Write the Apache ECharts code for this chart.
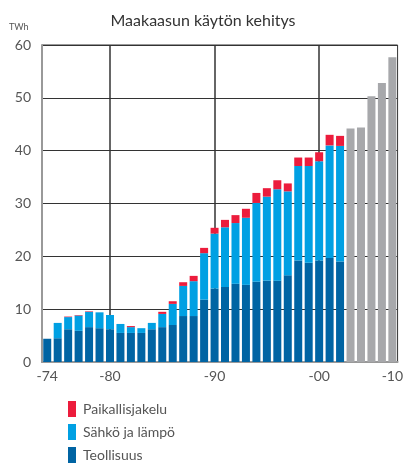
<!DOCTYPE html>
<html>
<head>
<meta charset="utf-8">
<script src="https://cdn.jsdelivr.net/npm/echarts@6/dist/echarts.min.js"></script>
<style>
  html, body { margin: 0; padding: 0; background: #fff; }
  #main { width: 406px; height: 465px; }
</style>
</head>
<body>
<div id="main"></div>
<script>
// vuodet 1974-2002 + ennustepalkit
var years = ['1974','1975','1976','1977','1978','1979','1980','1981','1982','1983',
  '1984','1985','1986','1987','1988','1989','1990','1991','1992','1993',
  '1994','1995','1996','1997','1998','1999','2000','2001','2002'];
var forecastYears = ['2003','2004','2005','2006','2010'];

var teollisuus = [4.4,4.5,6.2,5.9,6.6,6.4,6.2,5.5,5.5,5.5,6.2,6.6,7.0,8.7,8.7,11.8,13.9,14.2,14.8,14.6,15.2,15.4,15.4,16.4,19.2,18.8,19.2,19.7,19.0];
var sahkoJaLampo = [0,2.9,2.3,2.9,2.9,3.0,2.7,1.7,1.1,0.9,1.2,2.5,4.0,5.7,6.6,8.8,10.4,11.3,11.5,12.7,14.9,15.9,17.3,15.9,17.9,18.3,18.8,21.3,21.9];
var paikallisjakelu = [0,0,0.1,0.1,0.1,0,0,0,0.2,0,0,0.4,0.5,0.7,1.0,1.0,1.1,1.4,1.5,1.7,1.9,1.6,1.7,1.5,1.6,1.6,1.7,2.0,1.9];
var ennuste = [44.2,44.4,50.3,52.8,57.7];

var tickLabels = {'1974':'-74','1980':'-80','1990':'-90','2000':'-00','2010':'-10'};

var categories = years.concat(forecastYears);
var blanks = forecastYears.map(function () { return null; });
var before = years.map(function () { return null; });

var chart = echarts.init(document.getElementById('main'));

var font = 'Lato, "Open Sans", sans-serif';

var option = {
  animation: false,
  textStyle: { fontFamily: font },
  title: {
    text: 'Maakaasun käytön kehitys',
    left: 'center',
    top: 8,
    textStyle: { fontFamily: font, fontSize: 16, fontWeight: 'normal', color: '#333' }
  },
  graphic: [{
    type: 'text',
    left: 9,
    top: 23,
    style: { text: 'TWh', fontFamily: font, fontSize: 9, fill: '#555' }
  }],
  legend: {
    orient: 'vertical',
    left: 68,
    top: 401,
    padding: 0,
    itemWidth: 8,
    itemHeight: 16,
    itemGap: 7,
    icon: 'rect',
    data: ['Paikallisjakelu', 'Sähkö ja lämpö', 'Teollisuus'],
    textStyle: { fontFamily: font, fontSize: 14, color: '#555', padding: [0, 0, 0, 2] }
  },
  grid: {
    left: 42, right: 3, top: 45, bottom: 103,
    show: true, borderColor: '#333', borderWidth: 1, backgroundColor: 'transparent'
  },
  xAxis: {
    type: 'category',
    data: categories,
    axisTick: { show: false },
    axisLine: { lineStyle: { color: '#999', width: 2 } },
    axisLabel: {
      interval: function (i, v) { return tickLabels[v] !== undefined; },
      formatter: function (v) { return tickLabels[v] || ''; },
      fontFamily: font, fontSize: 14, color: '#555', margin: 7
    },
    splitLine: { show: false }
  },
  yAxis: {
    type: 'value',
    min: 0, max: 60, interval: 10,
    axisLine: { show: true, lineStyle: { color: '#999', width: 2 } },
    axisTick: { show: false },
    axisLabel: { fontFamily: font, fontSize: 14, color: '#555', margin: 11 },
    splitLine: { lineStyle: { color: '#333', width: 1 } }
  },
  series: [
    {
      name: 'Teollisuus', type: 'bar', stack: 'k', barWidth: 8,
      itemStyle: { color: '#0064a3' },
      data: teollisuus.concat(blanks),
      markLine: {
        silent: true, z: 1, symbol: 'none',
        label: { show: false },
        lineStyle: { color: '#333', width: 1.5, type: 'solid' },
        data: [{ xAxis: 6 }, { xAxis: 16 }, { xAxis: 26 }]
      }
    },
    {
      name: 'Sähkö ja lämpö', type: 'bar', stack: 'k', barWidth: 8,
      itemStyle: { color: '#00a0e3' },
      data: sahkoJaLampo.concat(blanks)
    },
    {
      name: 'Paikallisjakelu', type: 'bar', stack: 'k', barWidth: 8,
      itemStyle: { color: '#ec1c3c' },
      data: paikallisjakelu.concat(blanks)
    },
    {
      name: 'Ennuste', type: 'bar', stack: 'k', barWidth: 8,
      itemStyle: { color: '#a7a8ab' },
      data: before.concat(ennuste)
    }
  ]
};

chart.setOption(option);
</script>
</body>
</html>
